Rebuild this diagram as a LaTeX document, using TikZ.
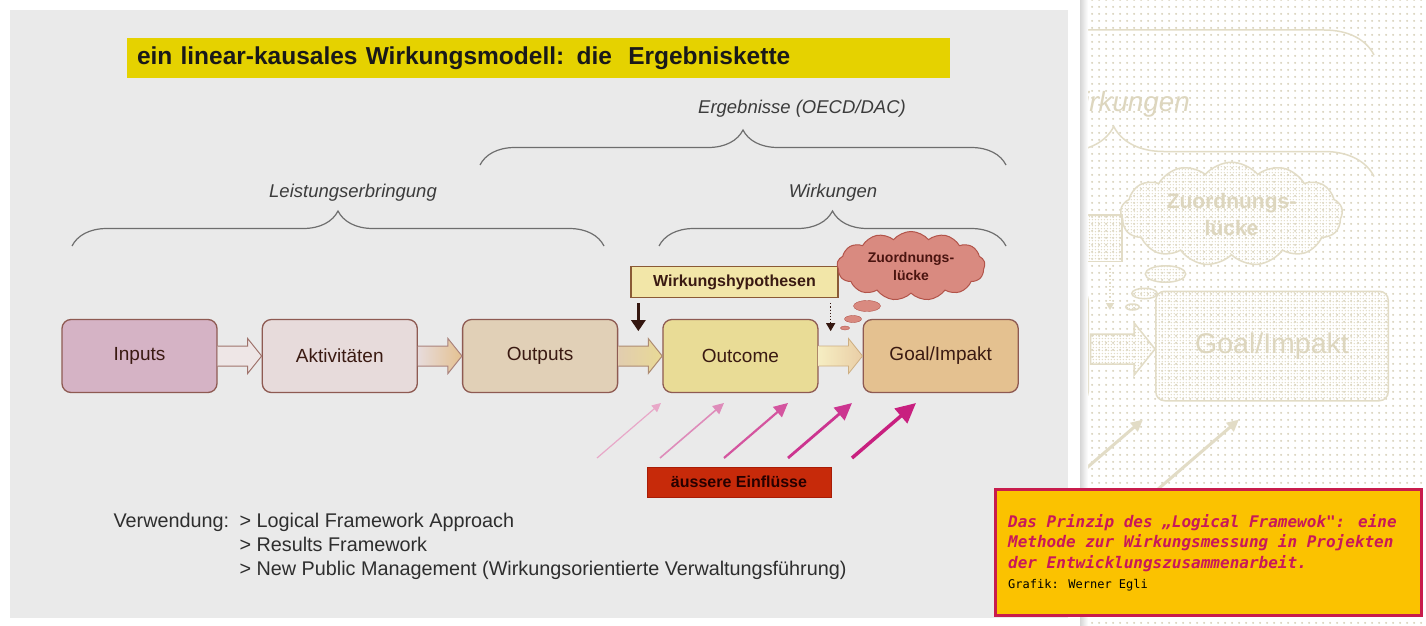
\documentclass[tikz,border=0pt]{standalone}
\usepackage{fontspec}
\setmainfont{Liberation Sans}
\newfontfamily\capmono{DejaVu Sans Mono}
\usetikzlibrary{positioning,calc,arrows.meta,shapes.symbols,shapes.geometric,decorations.pathreplacing,patterns.meta}

\definecolor{slidegray}{HTML}{EAEAEA}
\definecolor{boxline}{HTML}{8E5A52}
\definecolor{boxtext}{HTML}{3A1A12}
\definecolor{inputsfill}{HTML}{D5B3C5}
\definecolor{aktfill}{HTML}{E7DBDB}
\definecolor{outputsfill}{HTML}{E1D0B7}
\definecolor{outcomefill}{HTML}{E9DC96}
\definecolor{goalfill}{HTML}{E4C190}
\definecolor{titleyellow}{HTML}{E5D200}
\definecolor{hypfill}{HTML}{F2E6A8}
\definecolor{hypline}{HTML}{8A5A36}
\definecolor{cloudfill}{HTML}{D98A80}
\definecolor{cloudline}{HTML}{B2544A}
\definecolor{cloudtext}{HTML}{4A1410}
\definecolor{einflfill}{HTML}{C72A0A}
\definecolor{einflline}{HTML}{A81C06}
\definecolor{bracegray}{HTML}{6E6E6E}
\definecolor{labelgray}{HTML}{3C3C3C}
\definecolor{dotbeige}{HTML}{D9D3BD}
\definecolor{ghostline}{HTML}{E2DCC6}
\definecolor{ghosttext}{HTML}{DDD6BE}
\definecolor{capyellow}{HTML}{FBC200}
\definecolor{capline}{HTML}{C81C4C}
\definecolor{capred}{HTML}{C8185A}
\definecolor{infla}{HTML}{E8A8C8}
\definecolor{inflb}{HTML}{DE8CBA}
\definecolor{inflc}{HTML}{D4559F}
\definecolor{infld}{HTML}{CC3590}
\definecolor{infle}{HTML}{C8207F}

\tikzdeclarepattern{name=pagedots, type=uncolored,
  bottom left={(0pt,0pt)}, top right={(6.6pt,6.6pt)}, tile size={(6.6pt,6.6pt)},
  code={\fill (3.3pt,3.3pt) circle (1.1pt);}}
\tikzdeclarepattern{name=ghostdots, type=uncolored,
  bottom left={(0pt,0pt)}, top right={(3.3pt,3.3pt)}, tile size={(3.3pt,3.3pt)},
  code={\fill (1.65pt,1.65pt) circle (0.9pt);}}

\tikzset{
  chainbox/.style={draw=boxline, line width=1.3pt, rounded corners=9pt, minimum width=155pt,
    minimum height=73pt, text=boxtext, font=\fontsize{19}{22}\selectfont},
  bracelab/.style={text=labelgray, font=\itshape\fontsize{18.5}{22}\selectfont},
  curly/.style={draw=bracegray, line width=1.2pt, decorate, decoration={brace, amplitude=35pt}},
  ghost/.style={draw=ghostline, line width=1.5pt, pattern=ghostdots, pattern color=ghostline},
  ghostlab/.style={text=ghosttext},
  uselines/.style={anchor=base west, text=black!82, font=\fontsize{19.8}{22}\selectfont},
}

\newcommand{\chainarrow}[3]{%
  \draw[#1] ($(#2.east)+(0,-10)$) -- ($(#3.west)+(-14,-10)$) -- ($(#3.west)+(-14,-17.5)$)
    -- (#3.west) -- ($(#3.west)+(-14,17.5)$) -- ($(#3.west)+(-14,10)$) -- ($(#2.east)+(0,10)$);}

\begin{document}
\begin{tikzpicture}[x=1pt,y=-1pt]
  \useasboundingbox (0,0) rectangle (1426,626);
  \fill[white] (0,0) rectangle (1426,626);
  \fill[pattern=pagedots, pattern color=dotbeige] (1080,0) rectangle (1426,626);

  % the page below the slide
  \begin{scope}
    \clip (1082,0) rectangle (1426,626);
    \begin{scope}[shift={(-135,-185)}, scale=1.5, transform shape]
      \draw[draw=ghostline, line width=1.5pt, decorate, decoration={brace, amplitude=50pt}] (480,160) -- (1006,160);
      \draw[draw=ghostline, line width=1.5pt, decorate, decoration={brace, amplitude=50pt}] (659,241) -- (1006,241);
      \node[ghostlab, font=\itshape\fontsize{18.5}{22}\selectfont] (gwirk) at (839,193) {Wirkungen};
      \node[ghost, minimum width=207pt, minimum height=31pt, font=\bfseries\fontsize{16}{18}\selectfont, text=ghosttext] (ghyp) at (734.5,282) {Wirkungshypothesen};
      \node[ghost, cloud, cloud puffs=13, cloud puff arc=100, aspect=2.2, minimum width=148pt, minimum height=68pt,
        inner sep=1pt, align=center, text=ghosttext, font=\bfseries\fontsize{14}{18}\selectfont] (ggap) at (911,266) {Zuordnungs-\\lücke};
      \node[ghost, ellipse, inner sep=0, minimum width=27pt, minimum height=11pt] (gb1) at (867,306) {};
      \node[ghost, ellipse, inner sep=0, minimum width=17pt, minimum height=7pt] (gb2) at (853,319) {};
      \node[ghost, ellipse, inner sep=0, minimum width=9pt, minimum height=4pt] (gb3) at (845,328) {};
      \node[ghost, rounded corners=9pt, minimum width=155pt, minimum height=73pt] (gout) at (738,354) {};
      \node[ghost, rounded corners=9pt, minimum width=155pt, minimum height=73pt, text=ghosttext,
        font=\fontsize{19}{22}\selectfont] (ggoal) at (938,354) {Goal/Impakt};
      \draw[ghost] (817,346) -- (846,346) -- (846,338.5) -- (860,356) -- (846,373.5) -- (846,366) -- (817,366) -- cycle;
      \draw[ghostline, line width=1.5pt, dotted, -{Triangle[length=7pt,width=8pt]}] (830,302) -- (830,330);
      \draw[ghostline, line width=3pt, -{Triangle[length=12pt,width=11pt]}] (788,458) -- ++(64,-55);
      \draw[ghostline, line width=3pt, -{Triangle[length=12pt,width=11pt]}] (852,458) -- ++(64,-55);
    \end{scope}
  \end{scope}
  \shade[left color=black!18, right color=white] (1079,0) rectangle (1088,626);

  % slide
  \fill[white] (0,0) rectangle (1080,626);
  \fill[slidegray] (10,10) rectangle (1068,618);

  \node[fill=titleyellow, minimum height=40pt, text width=803pt, inner xsep=10pt, align=left,
    font=\bfseries\fontsize{24.5}{28}\selectfont, text=black!90] (title) at (538.5,58)
    {ein linear-kausales Wirkungsmodell: die\ \ Ergebniskette};

  \node[chainbox, fill=inputsfill] (inputs) at (139.5,356) {Inputs};
  \node[chainbox, fill=aktfill, right=44pt of inputs] (akt) {Aktivitäten};
  \node[chainbox, fill=outputsfill, right=44pt of akt] (outputs) {Outputs};
  \node[chainbox, fill=outcomefill, right=44pt of outputs] (outcome) {Outcome};
  \node[chainbox, fill=goalfill, right=44pt of outcome] (goal) {Goal/Impakt};

  \chainarrow{draw=boxline!85, line width=1pt, fill=aktfill!70!white}{inputs}{akt}
  \chainarrow{draw=boxline!75, line width=1pt, left color=aktfill, right color=goalfill}{akt}{outputs}
  \chainarrow{draw=hypline!70, line width=1pt, left color=outputsfill!80!goalfill, right color=outcomefill!90!goalfill}{outputs}{outcome}
  \chainarrow{draw=goalfill!90!black, line width=0.8pt, left color=hypfill!70!white, right color=goalfill!80!white}{outcome}{goal}

  \coordinate (lb) at (72,246);
  \coordinate (rb) at (604,246);
  \coordinate (wl) at (659,246);
  \coordinate (wr) at (1006,246);
  \coordinate (el) at (480,165);
  \coordinate (er) at (1006,165);
  \draw[curly] (lb) -- (rb);
  \draw[curly] (wl) -- (wr);
  \draw[curly] (el) -- (er);
  \node[bracelab] (leist) at (353,193) {Leistungserbringung};
  \node[bracelab] (wirk) at (833,193) {Wirkungen};
  \node[bracelab] (ergeb) at (802,109) {Ergebnisse (OECD/DAC)};

  \node[draw=hypline, line width=1.3pt, fill=hypfill, minimum width=207pt, minimum height=31pt,
    text=boxtext, font=\bfseries\fontsize{16}{18}\selectfont] (hyp) at (734.5,282) {Wirkungshypothesen};
  \draw[boxtext!90!black, line width=3pt, -{Triangle[length=11pt,width=14pt]}] ($(hyp.south west)+(8,5)$) -- ++(0,28);
  \draw[boxtext!90!black, line width=1.2pt, dotted, -{Triangle[length=8pt,width=9pt]}] ($(hyp.south east)+(-8,5)$) -- ++(0,28);

  \node[cloud, cloud puffs=13, cloud puff arc=100, aspect=2.2, minimum width=148pt, minimum height=68pt,
    inner sep=1pt, draw=cloudline, line width=1pt, fill=cloudfill, align=center, text=cloudtext,
    font=\bfseries\fontsize{14}{18}\selectfont] (gap) at (911,266) {Zuordnungs-\\lücke};
  \node[ellipse, inner sep=0, minimum width=27pt, minimum height=11pt, draw=cloudline, fill=cloudfill] (b1) at (867,306) {};
  \node[ellipse, inner sep=0, minimum width=17pt, minimum height=7pt, draw=cloudline, fill=cloudfill] (b2) at (853,319) {};
  \node[ellipse, inner sep=0, minimum width=9pt, minimum height=4pt, draw=cloudline, fill=cloudfill] (b3) at (845,328) {};

  \foreach \x/\col/\w/\h [count=\i] in {597/infla/1.2/9, 660/inflb/1.6/11, 724/inflc/2.2/14, 788/infld/2.8/17, 852/infle/3.5/20} {
    \coordinate (f\i) at (\x,458);
    \draw[\col, line width=\w pt, -{Triangle[length=\h pt, width=0.95*\h pt]}] (f\i) -- ++(64,-55);
  }

  \node[draw=einflline, line width=1pt, fill=einflfill, minimum width=184pt, minimum height=30pt,
    text=black!85!red, font=\bfseries\fontsize{16}{18}\selectfont] (einfl) at (739,482) {äussere Einflüsse};

  \node[uselines] (verw) at (110,527) {Verwendung:};
  \node[uselines] (use1) at (236,527) {> Logical Framework Approach};
  \node[uselines] (use2) at (236,551) {> Results Framework};
  \node[uselines] (use3) at (236,575) {> New Public Management (Wirkungsorientierte Verwaltungsführung)};

  % caption
  \node[draw=capline, line width=2.5pt, fill=capyellow, minimum width=426pt, minimum height=126pt,
    anchor=north west, inner sep=0] (caption) at (994,488) {};
  \node[anchor=north west, inner sep=0, align=left, text=capred,
    font=\capmono\bfseries\itshape\fontsize{16}{20.5}\selectfont] (captext) at (1008,514)
    {Das Prinzip des „Logical Framewok": eine\\Methode zur Wirkungsmessung in Projekten\\der Entwicklungszusammenarbeit.};
  \node[anchor=base west, inner sep=0, text=black, font=\capmono\fontsize{12}{14}\selectfont] (credit) at (1008,588) {Grafik: Werner Egli};
\end{tikzpicture}
\end{document}
